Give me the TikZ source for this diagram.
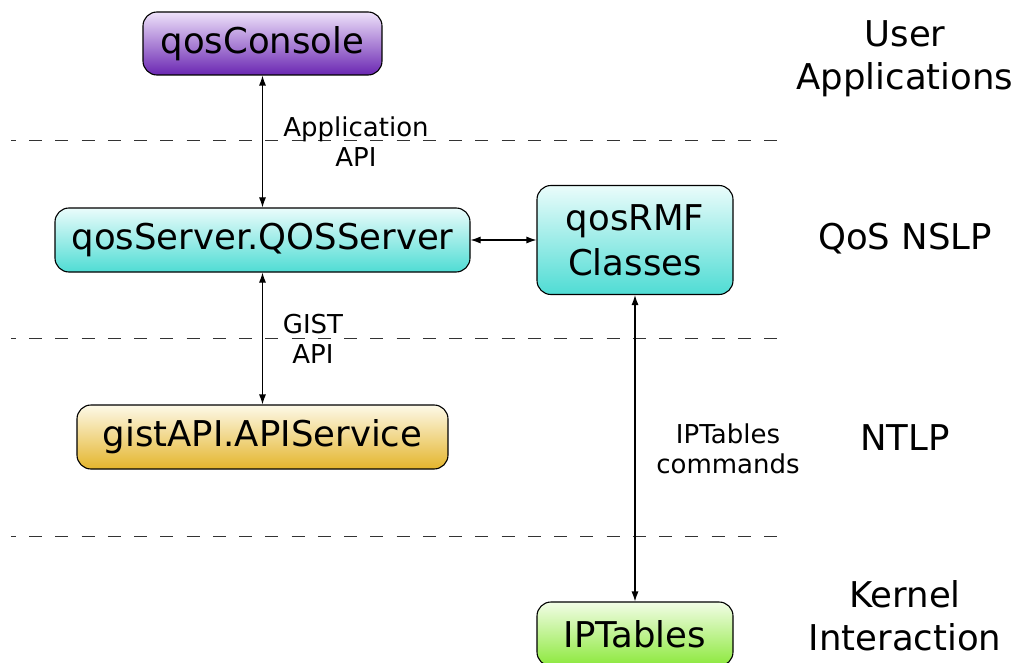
\documentclass[tikz,border=0pt]{standalone}
\usepackage{fontspec}
\setmainfont{DejaVu Sans}
\usetikzlibrary{arrows.meta}
\definecolor{purpTop}{HTML}{EEE2FA}
\definecolor{purpBot}{HTML}{6A26B2}
\definecolor{cyanTop}{HTML}{EAFCFB}
\definecolor{cyanBot}{HTML}{4FDCD4}
\definecolor{goldTop}{HTML}{FDF9E8}
\definecolor{goldBot}{HTML}{E4B52C}
\definecolor{greenTop}{HTML}{F2FDE6}
\definecolor{greenBot}{HTML}{8CE83C}
\tikzset{
  box/.style={draw=black, line width=1.1pt, rounded corners=14pt, inner sep=0pt,
    align=center, font=\fontsize{35.5}{45}\selectfont},
  arr/.style={line width=1.1pt, {Latex[length=10pt,width=7pt]}-{Latex[length=10pt,width=7pt]}},
  sep/.style={line width=1pt, dash pattern=on 13pt off 13.25pt, dash phase=8.25pt, color=black!80},
  layer/.style={align=center, font=\fontsize{35.5}{43}\selectfont},
  elabel/.style={align=center, font=\fontsize{26}{30}\selectfont}
}
\begin{document}
\begin{tikzpicture}[x=1pt,y=-1pt]
\useasboundingbox (0,0) rectangle (1017,663);
% separators
\coordinate (s1a) at (11,141); \coordinate (s1b) at (778,141);
\coordinate (s2a) at (11,338); \coordinate (s2b) at (778,338);
\coordinate (s3a) at (11,536); \coordinate (s3b) at (778,536);
\draw[sep] (s1a) -- (s1b);
\draw[sep] (s2a) -- (s2b);
\draw[sep] (s3a) -- (s3b);
% nodes
\node[box, top color=purpTop, bottom color=purpBot, minimum width=239pt, minimum height=63pt] (console) at (262.5,43.5) {qosConsole};
\node[box, top color=cyanTop, bottom color=cyanBot, minimum width=415pt, minimum height=64pt] (server) at (262.5,240) {qosServer.QOSServer};
\node[box, top color=cyanTop, bottom color=cyanBot, minimum width=196pt, minimum height=109pt] (rmf) at (635,240) {qosRMF\\Classes};
\node[box, top color=goldTop, bottom color=goldBot, minimum width=371pt, minimum height=64pt] (gist) at (262.5,437) {gistAPI.APIService};
\node[box, top color=greenTop, bottom color=greenBot, minimum width=196pt, minimum height=64pt] (ipt) at (635,634) {IPTables};
% connectors
\draw[arr] (console.south) -- (server.north);
\draw[arr] (server.south) -- (gist.north);
\draw[arr] (server.east) -- (rmf.west);
\draw[arr] (rmf.south) -- (ipt.north);
% edge labels
\node[elabel] (l1) at (356,142) {Application\\API};
\node[elabel] (l2) at (313,339) {GIST\\API};
\node[elabel] (l3) at (728,449) {IPTables\\commands};
% layer labels
\node[layer] (u) at (905,59) {User\\Applications};
\node[layer] (q) at (905,239) {QoS NSLP};
\node[layer] (n) at (905,438) {NTLP};
\node[layer] (k) at (905,616) {Kernel\\Interaction};
\end{tikzpicture}
\end{document}
